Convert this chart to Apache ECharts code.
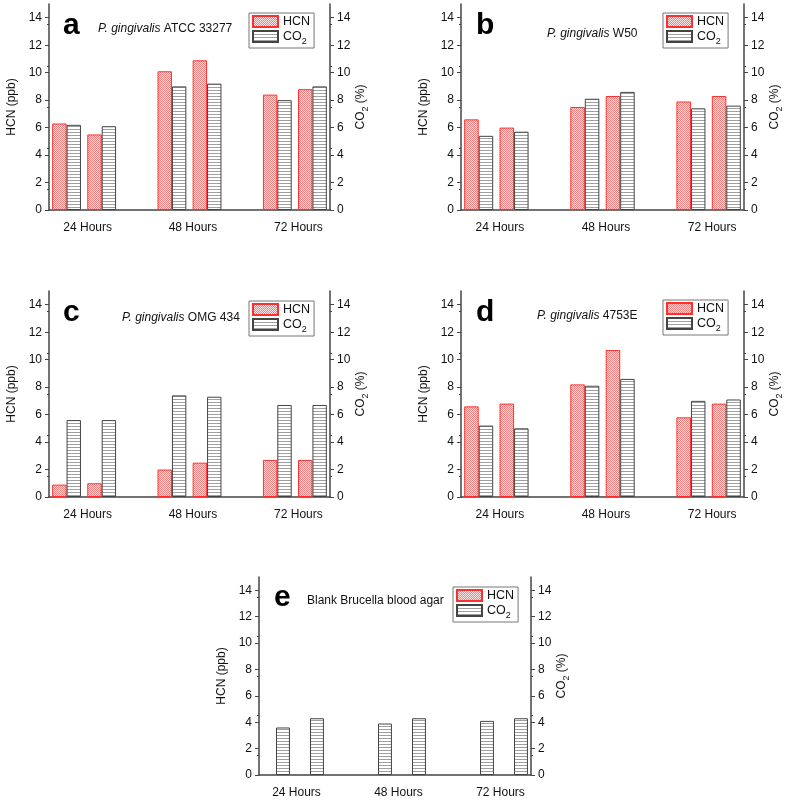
<!DOCTYPE html>
<html>
<head>
<meta charset="utf-8">
<script src="https://cdn.jsdelivr.net/npm/echarts@6/dist/echarts.min.js"></script>
<style>
html, body { margin: 0; padding: 0; background: #fff; }
#main { width: 787px; height: 803px; }
</style>
</head>
<body>
<div id="main"></div>
<script>
// time points on the x axis
const timeLabels = ['24 Hours', '48 Hours', '72 Hours'];
// y axis tick labels (both axes)
const yTicks = [0, 2, 4, 6, 8, 10, 12, 14];
// two replicates per time point: 24h, 24h, 48h, 48h, 72h, 72h
const hcnA = [6.3, 5.5, 10.1, 10.9, 8.4, 8.8];
const co2A = [6.2, 6.1, 9.0, 9.2, 8.0, 9.0];
const hcnB = [6.6, 6.0, 7.5, 8.3, 7.9, 8.3];
const co2B = [5.4, 5.7, 8.1, 8.6, 7.4, 7.6];
const hcnC = [0.9, 1.0, 2.0, 2.5, 2.7, 2.7];
const co2C = [5.6, 5.6, 7.4, 7.3, 6.7, 6.7];
const hcnD = [6.6, 6.8, 8.2, 10.7, 5.8, 6.8];
const co2D = [5.2, 5.0, 8.1, 8.6, 7.0, 7.1];
const hcnE = [0, 0, 0, 0, 0, 0];
const co2E = [3.6, 4.3, 3.9, 4.3, 4.1, 4.3];

const FONT = 'Liberation Sans';

// panel layout
const panels = [
  { letter: 'a', italic: 'P. gingivalis', rest: ' ATCC 33277', hcn: hcnA, co2: co2A,
    grid: { left: 49, top: 4, width: 281, height: 206 }, legend: [249, 13], letterAt: [63, 25.5], titleAt: [98, 28.3] },
  { letter: 'b', italic: 'P. gingivalis', rest: ' W50', hcn: hcnB, co2: co2B,
    grid: { left: 461, top: 4, width: 283, height: 206 }, legend: [663, 13], letterAt: [476, 25.5], titleAt: [547, 33.8] },
  { letter: 'c', italic: 'P. gingivalis', rest: ' OMG 434', hcn: hcnC, co2: co2C,
    grid: { left: 49, top: 291, width: 281, height: 206 }, legend: [249, 301], letterAt: [63, 313], titleAt: [122, 317.6] },
  { letter: 'd', italic: 'P. gingivalis', rest: ' 4753E', hcn: hcnD, co2: co2D,
    grid: { left: 461, top: 291, width: 283, height: 206 }, legend: [663, 300], letterAt: [476, 313], titleAt: [537, 316] },
  { letter: 'e', italic: '', rest: 'Blank Brucella blood agar', hcn: hcnE, co2: co2E,
    grid: { left: 259, top: 577, width: 272, height: 198 }, legend: [453, 587], letterAt: [274, 597.6], titleAt: [307, 601] }
];

function makePattern(w, h, draw) {
  const c = document.createElement('canvas');
  c.width = w;
  c.height = h;
  draw(c.getContext('2d'));
  return { image: c, repeat: 'repeat' };
}
const hcnFill = makePattern(2, 2, ctx => {
  ctx.fillStyle = '#fde6e6';
  ctx.fillRect(0, 0, 2, 2);
  ctx.fillStyle = '#f27e7e';
  ctx.fillRect(0, 0, 1, 1);
  ctx.fillRect(1, 1, 1, 1);
});
const co2Fill = makePattern(1, 3, ctx => {
  ctx.fillStyle = '#ffffff';
  ctx.fillRect(0, 0, 1, 3);
  ctx.fillStyle = '#a0a0a0';
  ctx.fillRect(0, 0, 1, 1);
});

// 8 slots: pairs at 0,1 / 3,4 / 6,7 with empty slots between time points;
// zero values are left undrawn (no bar in the original)
function toSlots(vals) {
  const out = [];
  vals.forEach((v, i) => {
    out.push(v === 0 ? '-' : v);
    if (i === 1 || i === 3) out.push('-');
  });
  return out;
}

const axisColor = '#444';
const subRich = { sub: { fontSize: 9, fontFamily: FONT, color: '#111', verticalAlign: 'bottom', lineHeight: 9, padding: [0, 0, -3, 0] } };

const grid = [], xAxis = [], yAxis = [], series = [], legend = [], graphic = [];

panels.forEach((p, i) => {
  grid.push(Object.assign({}, p.grid));
  xAxis.push({
    type: 'category', gridIndex: i, data: toSlots(p.hcn).map(() => ''),
    axisLine: { show: true, lineStyle: { color: axisColor, width: 1.5 } },
    axisTick: { show: false }, axisLabel: { show: false }, splitLine: { show: false }
  });
  xAxis.push({
    type: 'value', gridIndex: i, position: 'bottom', min: 0, max: 8, interval: 1,
    axisLine: { show: false }, axisTick: { show: false }, splitLine: { show: false },
    axisLabel: {
      fontSize: 12, fontFamily: FONT, color: '#111', margin: 12, padding: [0, 0, 0, 7],
      formatter: v => ((v - 1) % 3 === 0 ? timeLabels[(v - 1) / 3] : '')
    }
  });
  const yBase = {
    type: 'value', gridIndex: i, min: 0, max: 15,
    axisLine: { show: true, lineStyle: { color: axisColor, width: 1.5 } },
    axisTick: { show: true, length: 4, customValues: yTicks, lineStyle: { color: axisColor } },
    minorTick: { show: true, splitNumber: 2, length: 2, lineStyle: { color: axisColor } },
    axisLabel: { fontSize: 12, fontFamily: FONT, color: '#111', margin: 7, customValues: yTicks },
    splitLine: { show: false },
    nameLocation: 'middle', nameRotate: 90
  };
  yAxis.push(Object.assign({}, yBase, {
    position: 'left', name: 'HCN (ppb)', nameGap: 31,
    nameTextStyle: { fontSize: 12, fontFamily: FONT, color: '#111' }
  }));
  yAxis.push(Object.assign({}, yBase, {
    position: 'right', name: 'CO{sub|2} (%)', nameGap: 25,
    nameTextStyle: { fontSize: 12, fontFamily: FONT, color: '#111', rich: subRich }
  }));
  series.push({
    type: 'bar', name: 'HCN', xAxisIndex: 2 * i, yAxisIndex: 2 * i, data: toSlots(p.hcn),
    barWidth: '41%', barGap: '0%', silent: true,
    itemStyle: { color: hcnFill, borderColor: '#ff2f2f', borderWidth: 1 }
  });
  series.push({
    type: 'bar', name: 'CO2', xAxisIndex: 2 * i, yAxisIndex: 2 * i + 1, data: toSlots(p.co2),
    barWidth: '41%', barGap: '0%', silent: true,
    itemStyle: { color: co2Fill, borderColor: '#444', borderWidth: 1 }
  });
  legend.push({
    left: p.legend[0], top: p.legend[1], orient: 'vertical', data: ['HCN', 'CO2'],
    icon: 'rect', itemWidth: 25, itemHeight: 11, itemGap: 2, selectedMode: false,
    padding: [2, 4, 2, 3], borderColor: '#777', borderWidth: 1, borderRadius: 0,
    textStyle: { fontSize: 12.5, fontFamily: FONT, color: '#111', rich: subRich },
    formatter: n => (n === 'CO2' ? 'CO{sub|2}' : n)
  });
  graphic.push({
    type: 'text', x: p.letterAt[0], y: p.letterAt[1], silent: true,
    style: { text: p.letter, fontSize: 30, fontWeight: 'bold', fontFamily: FONT, fill: '#000', verticalAlign: 'middle' }
  });
  graphic.push({
    type: 'text', x: p.titleAt[0], y: p.titleAt[1], silent: true,
    style: {
      text: (p.italic ? '{i|' + p.italic + '}' : '') + p.rest,
      fontSize: 12, fontFamily: FONT, fill: '#111', verticalAlign: 'middle',
      rich: { i: { fontSize: 12, fontFamily: FONT, fontStyle: 'italic', fill: '#111' } }
    }
  });
});

const option = {
  backgroundColor: '#fff',
  animation: false,
  textStyle: { fontFamily: FONT },
  grid, xAxis, yAxis, series, legend, graphic
};

const myChart = echarts.init(document.getElementById('main'));
myChart.setOption(option);
</script>
</body>
</html>
